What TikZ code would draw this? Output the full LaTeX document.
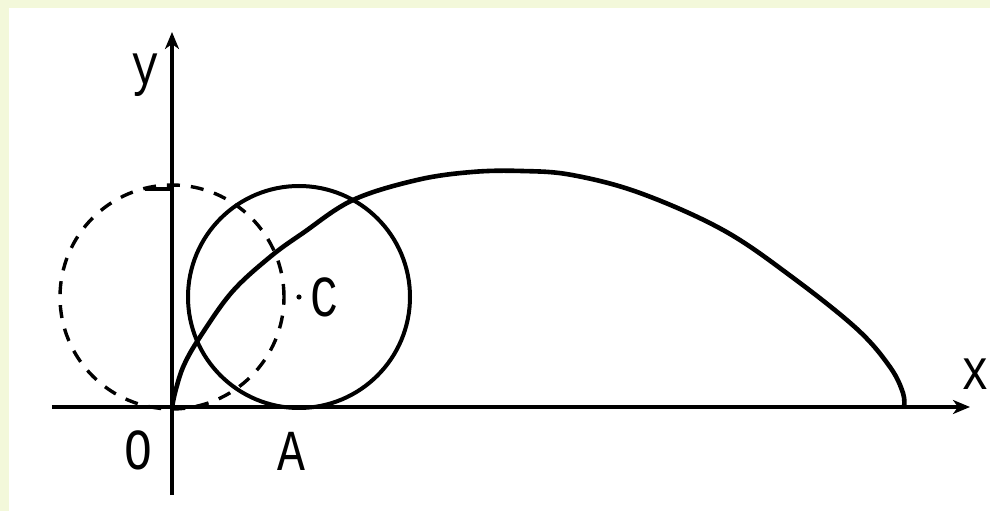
\documentclass[tikz,border=0pt]{standalone}
\usepackage{fontspec}
\setmonofont{Liberation Mono}
\usetikzlibrary{arrows.meta}
\definecolor{frame}{RGB}{243,248,218}
\begin{document}
\begin{tikzpicture}[
  x=1pt, y=1pt,
  axis/.style={line width=3.4pt, -{Stealth[length=17pt, width=14pt, inset=5pt]}},
  curve/.style={line width=4pt, line join=round},
  ghost/.style={line width=3.4pt, dash pattern=on 13pt off 11pt},
  lbl/.style={font=\fontsize{58}{58}\selectfont\ttfamily, inner sep=0pt, xscale=0.8, transform shape}
]
  % Frame
  \fill[frame] (-172,-104) rectangle (818,407);
  \fill[white] (-163,-104) rectangle (818,399);
  \useasboundingbox (-172,-104) rectangle (818,407);

  % Points
  \coordinate (O) at (0,0);
  \coordinate (C) at (127,110);
  \coordinate (S) at (0,110);
  \coordinate (xs) at (-120,0);
  \coordinate (xe) at (798,0);
  \coordinate (ys) at (0,-88);
  \coordinate (ye) at (0,375);
  \coordinate (tk) at (-27,218);

  % Axes
  \draw[axis] (xs) -- (xe);
  \draw[axis] (ys) -- (ye);
  \draw[line width=3.4pt] (tk) -- (tk -| O);

  % Circles
  \draw[ghost] (S) circle[radius=112];
  \draw[curve] (C) circle[radius=111];
  \fill (C) circle[radius=2.6pt];

  % Cycloid
  \draw[curve, line width=4.6pt] plot[smooth, tension=0.6] coordinates {
    (0,0) (4,18) (12,42) (28,70) (60,115) (98,150) (131,174)
    (181,207) (245,227) (300,235) (350,236) (400,232) (468,214)
    (551,177) (620,130) (685,78) (718,40) (731,14) (732,0)};

  % Labels
  \node[lbl] (ylab) at (-27,332) {y};
  \node[lbl] (xlab) at (803,33) {x};
  \node[lbl] (olab) at (-34,-43) {O};
  \node[lbl] (alab) at (119,-44) {A};
  \node[lbl, right=14pt] (clab) at (C) {C};
\end{tikzpicture}
\end{document}
